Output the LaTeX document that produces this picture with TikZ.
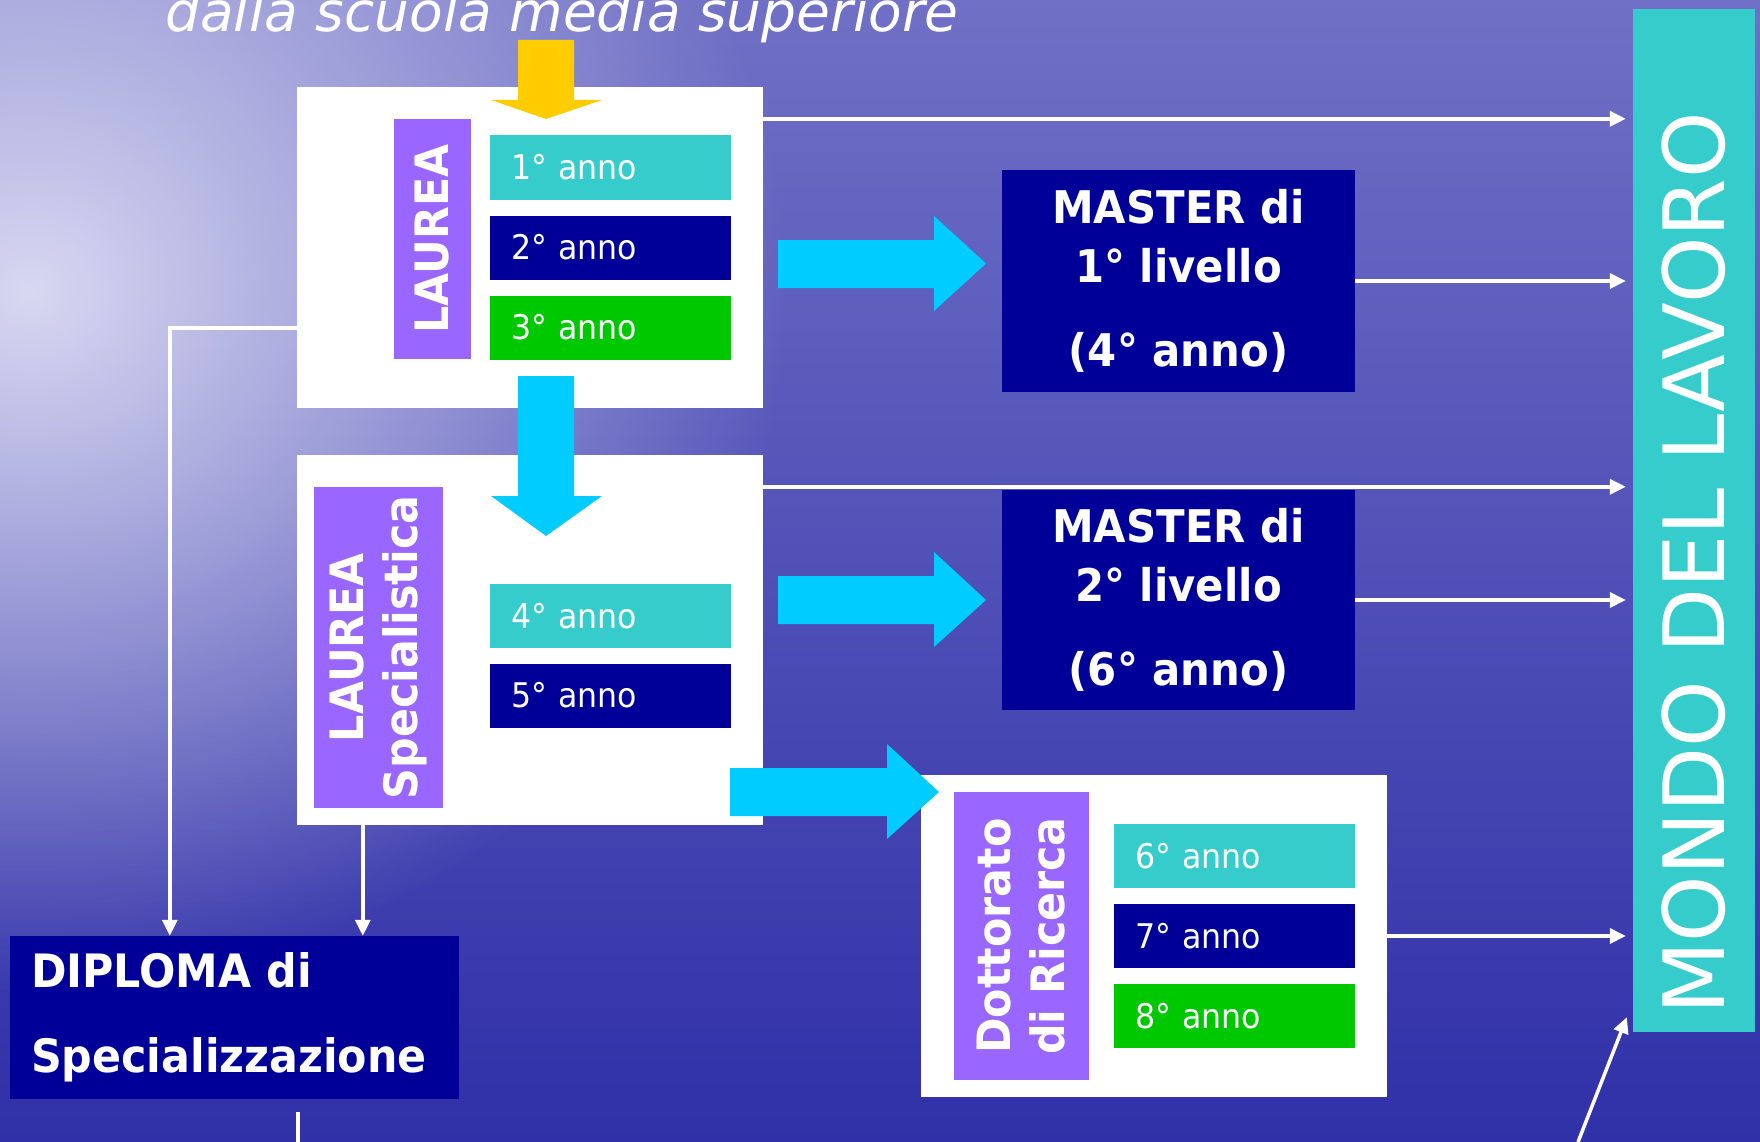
\documentclass[tikz,border=0pt]{standalone}
\usepackage{fontspec}
\setmainfont{DejaVu Sans}
\newfontfamily\tahoma[FakeStretch=0.93]{DejaVu Sans}
\usetikzlibrary{arrows.meta,calc,fadings}

\definecolor{bgtop}{HTML}{7070C6}
\definecolor{bgmid}{HTML}{4A4AB4}
\definecolor{bgbot}{HTML}{3030A8}
\definecolor{glow}{HTML}{D8D8F2}
\definecolor{annoteal}{HTML}{36CCCC}
\definecolor{annonavy}{HTML}{000099}
\definecolor{annogreen}{HTML}{00C800}
\definecolor{barpurple}{HTML}{9966FF}
\definecolor{arrcyan}{HTML}{00CCFF}
\definecolor{arryellow}{HTML}{FFCC00}

\tikzfading[name=glowfade, inner color=transparent!0, outer color=transparent!100]

\begin{document}
\begin{tikzpicture}[x=1pt,y=-1pt,
  whitebox/.style={fill=white, inner sep=0pt, minimum width=466pt},
  sidebar/.style={fill=barpurple, text=white, inner sep=0pt, rotate=90, align=center,
    font=\tahoma\bfseries\fontsize{46}{54}\selectfont},
  yearbox/.style={inner xsep=21pt, inner ysep=0pt, text width=199pt, minimum height=64pt,
    align=left, text=white, font=\tahoma\fontsize{34}{40}\selectfont},
  masterbox/.style={fill=annonavy, text=white, inner sep=0pt, minimum width=353pt, align=center,
    font=\tahoma\bfseries\fontsize{45}{59}\selectfont},
  conn/.style={draw=white, line width=3.5pt, -{Triangle[length=16pt,width=15pt]}},
  toworld/.style={conn, shorten >=7pt}
]
\useasboundingbox (0,0) rectangle (1760,1142);

% sea
\shade[top color=bgtop, middle color=bgmid, bottom color=bgbot] (0,0) rectangle (1760,1142);
\fill[glow, path fading=glowfade] (30,290) ellipse [x radius=760, y radius=700];

\draw (165,32) node(src)[anchor=base west, inner sep=0pt, text=white,
  font=\itshape\fontsize{55}{60}\selectfont]{dalla scuola media superiore};

\draw (530,247.5) node(lau)[whitebox, minimum height=321pt]{};
\draw (530,640) node(lsp)[whitebox, minimum height=370pt]{};
\draw (1154,936) node(dott)[whitebox, minimum height=322pt]{};

\draw (432.5,239) node(laubar)[sidebar, minimum width=240pt, minimum height=77pt]{LAUREA};
\draw (378.5,647.5) node(lspbar)[sidebar, minimum width=321pt, minimum height=129pt]{LAUREA\\Specialistica};
\draw (1021.5,936) node(dottbar)[sidebar, minimum width=288pt, minimum height=135pt]{Dottorato\\di Ricerca};

\draw (610.5,167.5) node(y1)[yearbox, fill=annoteal]{1° anno};
\draw (610.5,247.5) node(y2)[yearbox, fill=annonavy]{2° anno};
\draw (610.5,327.5) node(y3)[yearbox, fill=annogreen]{3° anno};
\draw (610.5,616) node(y4)[yearbox, fill=annoteal]{4° anno};
\draw (610.5,695.5) node(y5)[yearbox, fill=annonavy]{5° anno};
\draw (1234.5,856) node(y6)[yearbox, fill=annoteal]{6° anno};
\draw (1234.5,936) node(y7)[yearbox, fill=annonavy]{7° anno};
\draw (1234.5,1016) node(y8)[yearbox, fill=annogreen]{8° anno};

\draw (1178.5,281) node(m1)[masterbox, minimum height=222pt]{MASTER di\\1° livello\\[25pt](4° anno)};
\draw (1178.5,600) node(m2)[masterbox, minimum height=220pt]{MASTER di\\2° livello\\[25pt](6° anno)};

\draw (234.5,1017.5) node(dipl)[fill=annonavy, text=white, inner xsep=21pt, inner ysep=0pt,
  text width=407pt, minimum height=163pt, align=left,
  font=\tahoma\bfseries\fontsize{46}{85}\selectfont]{DIPLOMA di\\Specializzazione};

\draw (1694,520.5) node(mdl)[fill=annoteal, text=white, inner sep=0pt, rotate=90,
  minimum width=1023pt, minimum height=122pt,
  font=\fontsize{84.5}{90}\selectfont]{MONDO DEL LAVORO\hspace*{86pt}};

% verso il mondo del lavoro
\draw[toworld] ($(lau.north east)+(0,32)$) coordinate(t1) -- (t1 -| mdl.north);
\draw[toworld] (m1.east) -- (m1.east -| mdl.north);
\draw[toworld] ($(lsp.north east)+(0,32)$) coordinate(t3) -- (t3 -| mdl.north);
\draw[toworld] (m2.east) -- (m2.east -| mdl.north);
\draw[toworld] (dott.east) -- (dott.east -| mdl.north);
\coordinate (low) at (1578,1142);
\draw[conn] (low) -- ($(mdl.north west)+(-6,-15)$);

% verso il diploma
\draw[conn] ($(lau.south west)+(0,-80)$) -| ($(dipl.north west)+(160,0)$);
\draw[conn] ($(lsp.south west)+(66,0)$) coordinate(sd) -- (sd |- dipl.north);
\draw[white, line width=3.5pt] ($(dipl.south west)+(288,13)$) -- ++(0,30);

% frecce
\fill[arryellow] (518,40) -- (574,40) -- (574,100) -- (602,100) -- (546,119) -- (491,100) -- (518,100) -- cycle;
\fill[arrcyan] (518,376) -- (574,376) -- (574,496) -- (602,496) -- (546,536) -- (491,496) -- (518,496) -- cycle;
\fill[arrcyan] (778,240) -- (934,240) -- (934,216) -- (986,263.5) -- (934,311) -- (934,288) -- (778,288) -- cycle;
\fill[arrcyan] (778,576) -- (934,576) -- (934,552) -- (986,600) -- (934,647) -- (934,624) -- (778,624) -- cycle;
\fill[arrcyan] (730,768) -- (887,768) -- (887,744) -- (939,792) -- (887,839) -- (887,816) -- (730,816) -- cycle;

\end{tikzpicture}
\end{document}
